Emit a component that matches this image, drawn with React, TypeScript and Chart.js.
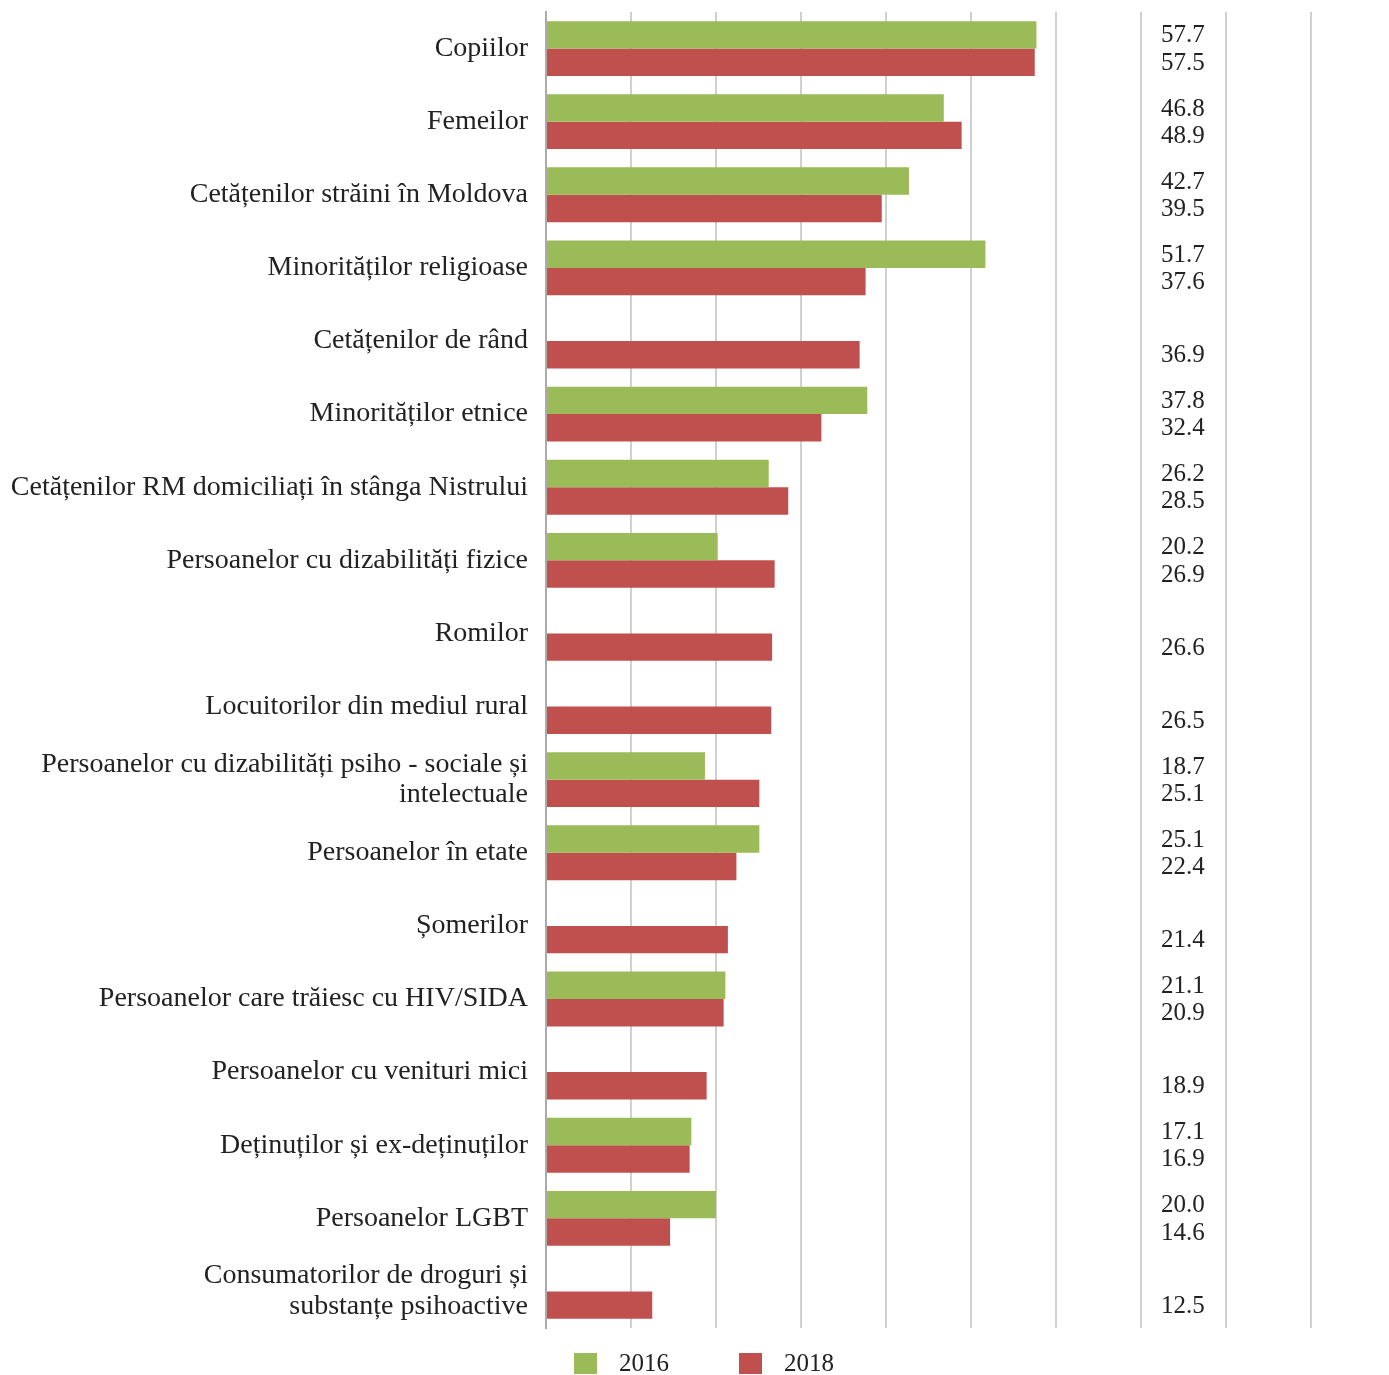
import React, { useEffect, useRef } from 'react';
import { Chart, registerables } from 'chart.js';

Chart.register(...registerables);

const categories: (string | string[])[] = [
  'Copiilor',
  'Femeilor',
  'Cetățenilor străini în Moldova',
  'Minorităților religioase',
  'Cetățenilor de rând',
  'Minorităților etnice',
  'Cetățenilor RM domiciliați în stânga Nistrului',
  'Persoanelor cu dizabilități fizice',
  'Romilor',
  'Locuitorilor din mediul rural',
  ['Persoanelor cu dizabilități psiho - sociale și', 'intelectuale'],
  'Persoanelor în etate',
  'Șomerilor',
  'Persoanelor care trăiesc cu HIV/SIDA',
  'Persoanelor cu venituri mici',
  'Deținuților și ex-deținuților',
  'Persoanelor LGBT',
  ['Consumatorilor de droguri și', 'substanțe psihoactive'],
];

const values2016: (number | null)[] = [
  57.7, 46.8, 42.7, 51.7, null, 37.8, 26.2, 20.2, null, null, 18.7, 25.1, null, 21.1, null, 17.1, 20.0, null,
];

const values2018: (number | null)[] = [
  57.5, 48.9, 39.5, 37.6, 36.9, 32.4, 28.5, 26.9, 26.6, 26.5, 25.1, 22.4, 21.4, 20.9, 18.9, 16.9, 14.6, 12.5,
];

const seriesLabels = ['2016', '2018'];
const seriesColors = ['#9BBB59', '#C0504D'];

const xMin = 0;
const xMax = 90;
const xStep = 10;

const FONT = "'Liberation Serif', 'DejaVu Serif', serif";
const TEXT_COLOR = '#222222';

const valueLabelsPlugin = {
  id: 'valueLabels',
  afterDatasetsDraw(chart: any) {
    const { ctx, chartArea } = chart;
    ctx.save();
    ctx.font = `25px ${FONT}`;
    ctx.fillStyle = TEXT_COLOR;
    ctx.textAlign = 'left';
    ctx.textBaseline = 'middle';
    const x = chartArea.left + 615;
    chart.data.datasets.forEach((ds: any, di: number) => {
      const meta = chart.getDatasetMeta(di);
      ds.data.forEach((v: number | null, i: number) => {
        if (v === null || v === undefined) return;
        const el = meta.data[i];
        ctx.fillText(v.toFixed(1), x, el.y + 1);
      });
    });
    ctx.restore();
  },
};

const legendPlugin = {
  id: 'customLegend',
  afterDraw(chart: any) {
    const { ctx } = chart;
    ctx.save();
    ctx.font = `25px ${FONT}`;
    ctx.textAlign = 'left';
    ctx.textBaseline = 'middle';
    const yc = 1364;
    const starts = [574, 739];
    chart.data.datasets.forEach((ds: any, i: number) => {
      const x = starts[i];
      ctx.fillStyle = ds.backgroundColor;
      ctx.fillRect(x, yc - 11, 23, 21);
      ctx.fillStyle = TEXT_COLOR;
      ctx.fillText(ds.label, x + 45, yc);
    });
    ctx.restore();
  },
};

export default function App() {
  const canvasRef = useRef<HTMLCanvasElement | null>(null);

  useEffect(() => {
    if (!canvasRef.current) return;
    const chart = new Chart(canvasRef.current, {
      type: 'bar',
      data: {
        labels: categories as any,
        datasets: [
          {
            label: seriesLabels[0],
            data: values2016 as any,
            backgroundColor: seriesColors[0],
            categoryPercentage: 0.75,
            barPercentage: 1,
          },
          {
            label: seriesLabels[1],
            data: values2018 as any,
            backgroundColor: seriesColors[1],
            categoryPercentage: 0.75,
            barPercentage: 1,
          },
        ],
      },
      options: {
        indexAxis: 'y',
        responsive: false,
        animation: false,
        layout: { padding: { top: 12, right: 78, bottom: 47, left: 0 } },
        plugins: {
          legend: { display: false },
          tooltip: { enabled: false },
        },
        scales: {
          x: {
            min: xMin,
            max: xMax,
            ticks: { display: false, stepSize: xStep },
            grid: { color: '#D0D0D0', lineWidth: 2, drawTicks: false },
            border: { display: false },
            afterFit: (s: any) => {
              s.height = 0;
              s.paddingLeft = 0;
              s.paddingRight = 0;
            },
          },
          y: {
            grid: { display: false, drawTicks: false },
            border: { display: true, color: '#ABABAB', width: 2 },
            ticks: {
              font: { family: FONT, size: 28, lineHeight: 1.1 },
              color: TEXT_COLOR,
              padding: 18,
              autoSkip: false,
            },
            afterFit: (s: any) => {
              s.width = 546;
              s.paddingTop = 0;
              s.paddingBottom = 0;
            },
          },
        },
      },
      plugins: [valueLabelsPlugin, legendPlugin],
    });
    return () => chart.destroy();
  }, []);

  return (
    <div style={{ position: 'absolute', left: 0, top: 0, width: 1389, height: 1375, background: '#fff' }}>
      <canvas ref={canvasRef} width={1389} height={1375} style={{ width: 1389, height: 1375, display: 'block' }} />
    </div>
  );
}
